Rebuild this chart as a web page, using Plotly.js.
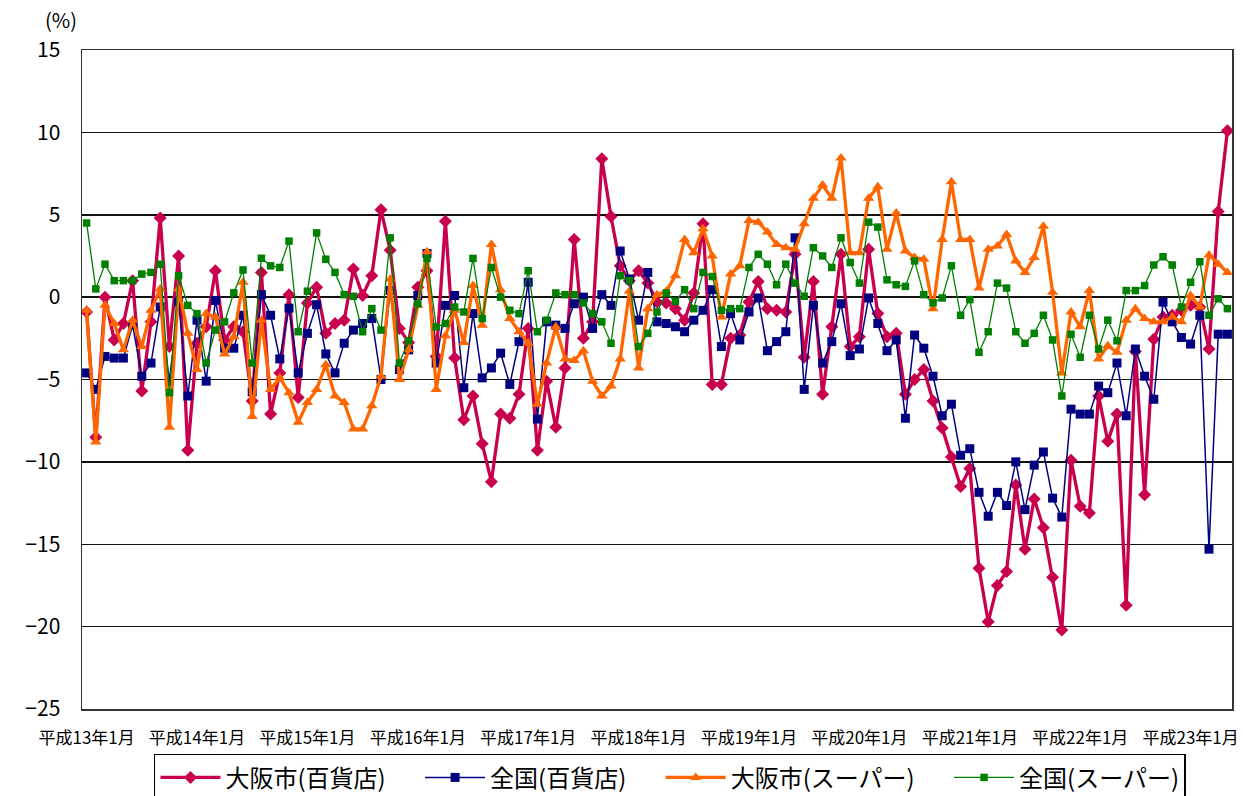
<!DOCTYPE html>
<html><head><meta charset="utf-8">
<script src="https://cdn.plot.ly/plotly-3.0.1.min.js"></script>
<style>html,body{margin:0;padding:0;background:#fff;}#chart{width:1243px;height:796px;}</style>
</head><body><div id="chart"></div>
<script>
// Months 平成13年1月 .. 平成23年5月
const years = [13,14,15,16,17,18,19,20,21,22,23];
const months = [];
years.forEach(y => { for (let m = 1; m <= 12; m++) { if (y === 23 && m > 5) break; months.push('平成' + y + '年' + m + '月'); } });
const tickLabels = ['平成13年1月','平成14年1月','平成15年1月','平成16年1月','平成17年1月','平成18年1月','平成19年1月','平成20年1月','平成21年1月','平成22年1月','平成23年1月'];

const osakaDept = [-0.9,-8.5,0.0,-2.6,-1.6,1.0,-5.7,-1.5,4.8,-3.0,2.5,-9.3,-2.8,-1.8,1.6,-2.6,-1.8,-2.1,-6.3,1.5,
 -7.1,-4.6,0.15,-6.1,-0.35,0.6,-2.2,-1.6,-1.4,1.7,0.1,1.3,5.3,2.85,-1.9,-2.75,0.6,1.6,-3.6,4.6,
 -3.7,-7.45,-6.0,-8.9,-11.2,-7.1,-7.35,-5.9,-1.9,-9.3,-5.1,-7.9,-4.3,3.5,-2.5,-1.5,8.4,4.9,1.9,1.0,
 1.6,0.85,-0.3,-0.35,-0.7,-1.4,0.25,4.45,-5.3,-5.3,-2.5,-2.3,-0.3,0.95,-0.7,-0.8,-0.9,2.6,-3.65,0.95,
 -5.9,-1.8,2.6,-3.0,-2.4,2.9,-1.0,-2.4,-2.2,-5.9,-5.0,-4.4,-6.3,-7.95,-9.7,-11.5,-10.4,-16.45,-19.7,-17.5,
 -16.65,-11.4,-15.3,-12.25,-14.0,-17.0,-20.2,-9.9,-12.7,-13.1,-6.0,-8.75,-7.1,-18.7,-3.3,-12.0,-2.55,-1.2,-1.1,-0.8,
 -0.5,-0.6,-3.15,5.2,10.1];
const zenkokuDept = [-4.6,-5.6,-3.6,-3.7,-3.7,-1.7,-4.8,-4.0,-0.6,-5.1,-0.3,-6.0,-1.4,-5.1,-0.2,-3.1,-3.1,-1.1,-5.75,0.15,
 -1.1,-3.75,-0.67,-4.6,-2.2,-0.46,-3.45,-4.6,-2.8,-2.0,-1.6,-1.3,-5.0,0.4,-4.4,-3.2,0.1,2.65,-4.0,-0.5,
 0.1,-5.5,-1.0,-4.9,-4.3,-3.4,-5.3,-2.7,0.9,-7.4,-1.5,-1.7,-1.9,-0.4,0.0,-1.9,0.15,-0.5,2.8,1.1,
 -1.4,1.5,-1.5,-1.6,-1.8,-2.1,-1.4,-0.8,0.45,-3.0,-1.0,-2.6,-0.9,-0.05,-3.25,-2.7,-2.1,3.6,-5.6,-0.5,
 -4.0,-2.7,-0.4,-3.55,-3.15,-0.05,-1.6,-3.25,-2.6,-7.35,-2.3,-3.1,-4.8,-7.2,-6.5,-9.6,-9.2,-11.85,-13.3,-11.85,
 -12.65,-10.0,-12.9,-10.2,-9.4,-12.2,-13.35,-6.8,-7.1,-7.1,-5.4,-5.8,-4.0,-7.2,-3.15,-4.8,-6.2,-0.3,-1.5,-2.45,
 -2.85,-1.1,-15.3,-2.25,-2.25];
const osakaSuper = [-0.8,-8.8,-0.5,-1.6,-3.2,-1.4,-3.0,-0.8,0.5,-7.9,0.5,-2.2,-4.4,-1.0,-1.2,-3.45,-2.4,0.9,-7.25,-1.4,
 -5.6,-4.9,-5.8,-7.6,-6.4,-5.6,-4.1,-6.0,-6.4,-8.0,-8.0,-6.6,-4.8,1.1,-5.0,-3.2,-0.5,2.75,-5.6,-2.35,
 -0.8,-2.75,0.7,-1.7,3.2,0.45,-1.3,-2.1,-2.8,-6.5,-4.0,-1.8,-3.75,-3.85,-3.25,-5.1,-6.0,-5.4,-3.75,0.35,
 -4.3,-0.7,0.15,0.35,1.3,3.5,2.7,4.15,2.5,-1.2,1.4,1.9,4.65,4.55,3.95,3.2,3.0,2.9,4.45,6.0,
 6.8,6.0,8.45,2.7,2.7,6.0,6.7,2.9,5.1,2.8,2.4,2.3,-0.7,3.5,7.0,3.5,3.5,0.55,2.9,3.1,
 3.8,2.2,1.5,2.4,4.3,0.3,-4.6,-0.9,-1.8,0.4,-3.75,-2.95,-3.35,-1.4,-0.7,-1.3,-1.5,-1.5,-1.2,-1.5,
 0.1,-0.6,2.55,2.0,1.5];
const zenkokuSuper = [4.5,0.5,2.0,1.0,1.0,1.0,1.4,1.5,2.0,-5.8,1.3,-0.5,-1.0,-4.0,-2.0,-1.5,0.26,1.65,-4.0,2.36,
 1.9,1.8,3.4,-2.1,0.36,3.9,2.3,1.5,0.15,0.05,-2.1,-0.7,-2.0,3.6,-4.0,-2.65,-0.4,2.35,-1.8,-1.6,
 -0.6,-0.9,2.35,-1.3,1.8,0.0,-0.8,-1.0,1.6,-2.1,-1.4,0.25,0.15,0.15,-0.35,-1.0,-1.5,-2.8,1.3,1.0,
 -3.0,-2.2,-0.9,0.25,-0.25,0.45,-0.7,1.5,1.25,-0.8,-0.7,-0.7,1.8,2.6,2.0,0.75,2.0,0.85,0.05,3.0,
 2.5,1.8,3.6,2.1,0.85,4.55,4.25,1.05,0.75,0.65,2.2,0.15,-0.35,-0.05,1.9,-1.1,-0.15,-3.35,-2.1,0.85,
 0.55,-2.1,-2.8,-2.2,-1.1,-2.6,-6.0,-2.25,-3.65,-1.1,-3.15,-1.4,-2.65,0.4,0.4,0.7,1.95,2.45,1.95,-0.6,
 0.9,2.15,-1.1,-0.1,-0.7];

const seriesNames = ['大阪市(百貨店)','全国(百貨店)','大阪市(スーパー)','全国(スーパー)'];
const font = '"Noto Sans CJK JP", "Noto Sans", sans-serif';
const pad = '\u3000\u00a0'; // spacing after legend entries, as in the original legend

const traces = [
  {x: months, y: osakaDept, name: seriesNames[0] + pad, mode: 'lines+markers',
   line: {color: '#C8004E', width: 3.3}, marker: {symbol: 'diamond', size: 10, color: '#C8004E'}},
  {x: months, y: zenkokuDept, name: seriesNames[1] + pad, mode: 'lines+markers',
   line: {color: '#000080', width: 1.5}, marker: {symbol: 'square', size: 9, color: '#000080'}},
  {x: months, y: osakaSuper, name: seriesNames[2] + pad, mode: 'lines+markers',
   line: {color: '#FF6600', width: 3.3}, marker: {symbol: 'triangle-up', size: 10, color: '#FF6600'}},
  {x: months, y: zenkokuSuper, name: seriesNames[3], mode: 'lines+markers',
   line: {color: '#008000', width: 1.3}, marker: {symbol: 'square', size: 7.5, color: '#008000'}}
];

const layout = {
  width: 1243, height: 796,
  margin: {l: 82, r: 11, t: 50, b: 87},
  paper_bgcolor: '#fff', plot_bgcolor: '#fff',
  font: {family: font, color: '#000'},
  showlegend: true,
  xaxis: {
    type: 'category', categoryorder: 'array', categoryarray: months,
    range: [-0.5, months.length - 0.5],
    tickmode: 'array', tickvals: tickLabels, ticktext: tickLabels,
    tickangle: 0, automargin: false,
    tickfont: {size: 17, family: font, color: '#000'},
    showgrid: false, zeroline: false,
    showline: true, linecolor: '#333', linewidth: 1.5, mirror: true,
    ticks: '', ticklabelstandoff: 13
  },
  yaxis: {
    range: [-25, 15], dtick: 5, tick0: -25, automargin: false,
    tickfont: {size: 21, family: font, color: '#000'},
    showgrid: true, gridcolor: '#111', gridwidth: 1.5,
    zeroline: false,
    showline: true, linecolor: '#333', linewidth: 1.5, mirror: true,
    ticks: '', ticklabelstandoff: 16
  },
  legend: {
    orientation: 'h', xref: 'container', yref: 'container',
    x: 0.539, xanchor: 'center', y: 0.053, yanchor: 'top',
    bordercolor: '#000', borderwidth: 1.5, bgcolor: '#fff',
    font: {size: 24, family: font, color: '#000'},
    itemwidth: 60, tracegroupgap: 0
  },
  annotations: [{
    text: '(%)', xref: 'paper', yref: 'paper', x: -0.018, y: 1.0, yshift: 31,
    xanchor: 'center', yanchor: 'middle', showarrow: false,
    font: {size: 20, family: font, color: '#000'}
  }]
};

Plotly.newPlot('chart', traces, layout, {displayModeBar: false, staticPlot: true});
</script>
</body></html>
